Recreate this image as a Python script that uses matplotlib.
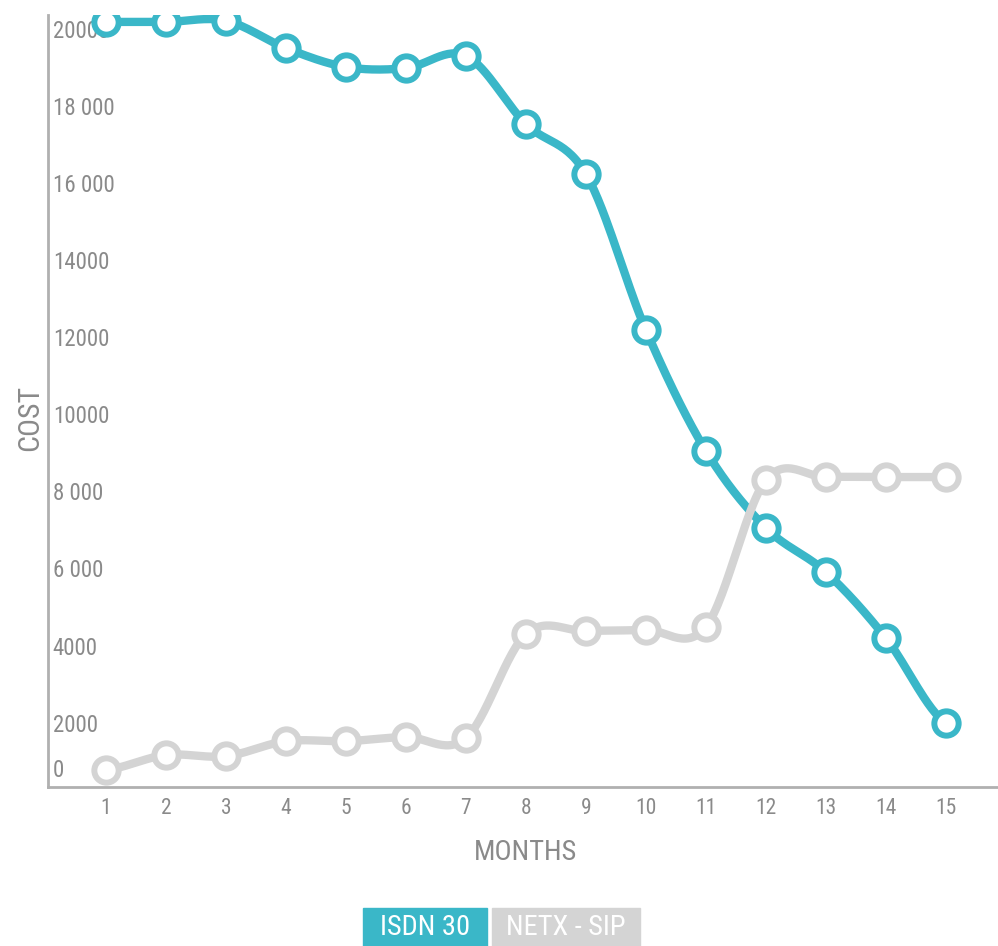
import numpy as np
import matplotlib
matplotlib.use("Agg")
import matplotlib.pyplot as plt
from matplotlib import font_manager
from matplotlib.font_manager import FontProperties

months = list(range(1, 16))
isdn30 = [20260, 20260, 20290, 19580, 19090, 19060, 19380, 17610, 16310,
          12260, 9120, 7120, 5970, 4260, 2050]
netx_sip = [830, 1220, 1190, 1580, 1580, 1690, 1660, 4360, 4440, 4470,
            4550, 8360, 8440, 8440, 8440]
ytick_values = [0, 2000, 4000, 6000, 8000, 10000, 12000, 14000, 16000, 18000, 20000]
ytick_labels = ["0", "2000", "4000", "6 000", "8 000", "10000", "12000",
                "14000", "16 000", "18 000", "20000"]
series_names = ["ISDN 30", "NETX - SIP"]

TEAL = "#3ab7c8"
GREY = "#d4d4d4"
TXT = "#8a8a8a"

avail = {f.name for f in font_manager.fontManager.ttflist}
STRETCH = "normal"
if "Roboto Condensed" in avail:
    fam = ["Roboto Condensed", "DejaVu Sans"]
elif "Liberation Sans Narrow" in avail:
    fam = ["Liberation Sans Narrow", "DejaVu Sans"]
else:
    f = font_manager.findfont(FontProperties(family="DejaVu Sans", stretch="condensed"))
    fam = ["DejaVu Sans"]
    if "Condensed" in f:
        STRETCH = "condensed"
plt.rcParams["font.family"] = fam
plt.rcParams["font.stretch"] = STRETCH


def catmull(x, y, n=30):
    x = np.asarray(x, float)
    y = np.asarray(y, float)
    px = np.concatenate([[2 * x[0] - x[1]], x, [2 * x[-1] - x[-2]]])
    py = np.concatenate([[y[0]], y, [y[-1]]])
    xs, ys = [], []
    for i in range(1, len(px) - 2):
        t = np.linspace(0, 1, n, endpoint=False)
        for arr, out in ((px, xs), (py, ys)):
            p0, p1, p2, p3 = arr[i - 1], arr[i], arr[i + 1], arr[i + 2]
            out.append(0.5 * ((2 * p1) + (-p0 + p2) * t +
                              (2 * p0 - 5 * p1 + 4 * p2 - p3) * t ** 2 +
                              (-p0 + 3 * p1 - 3 * p2 + p3) * t ** 3))
    xs.append([x[-1]])
    ys.append([y[-1]])
    return np.concatenate(xs), np.concatenate(ys)


W, H = 998, 946
fig = plt.figure(figsize=(W / 100, H / 100), dpi=100)
ax = fig.add_axes([48 / W, (H - 787) / H, 1 - 48 / W, (787 - 15) / H])

for vals, col in ((isdn30, TEAL), (netx_sip, GREY)):
    sx, sy = catmull(months, vals)
    ax.plot(sx, sy, color=col, lw=6, solid_capstyle="round", zorder=2)
    ax.plot(months, vals, linestyle="none", marker="o", ms=17.5,
            mfc="white", mec=col, mew=4.3, zorder=3)

ax.set_xlim(0.033, 15.87)
ax.set_ylim(390, 20440)
ax.set_xticks(months)
ax.set_xticklabels([str(m) for m in months], fontsize=15.5, color=TXT)
ax.tick_params(axis="x", length=0, pad=8)
ax.set_yticks([])
for v, lab in zip(ytick_values, ytick_labels):
    if v == 0:
        ax.text(0.005, 17 / 772, lab, transform=ax.transAxes, fontsize=16.5,
                color=TXT, ha="left", va="center", zorder=1)
    else:
        ax.text(0.005, v, lab, transform=ax.get_yaxis_transform(), fontsize=16.5,
                color=TXT, ha="left", va="center", zorder=1)

for s in ("top", "right"):
    ax.spines[s].set_visible(False)
for s in ("left", "bottom"):
    ax.spines[s].set_color("#b0b0b0")
    ax.spines[s].set_linewidth(2)

fig.text(526 / W, 1 - 852 / H, "MONTHS", fontsize=20.5, color=TXT, ha="center", va="center")
fig.text(30 / W, 1 - 418 / H, "COST", fontsize=21.5, color=TXT, ha="center", va="center",
         rotation=90)

# legend boxes
for name, col, x0, x1 in ((series_names[0], TEAL, 363, 487), (series_names[1], GREY, 492, 640)):
    fig.patches.append(plt.Rectangle((x0 / W, 0), (x1 - x0) / W, 38 / H,
                                     transform=fig.transFigure, color=col, zorder=1))
    fig.text((x0 + x1) / 2 / W, 1 - 927 / H, name, fontsize=20.5, color="white",
             ha="center", va="center", zorder=2)

fig.savefig("out.png", dpi=100)
